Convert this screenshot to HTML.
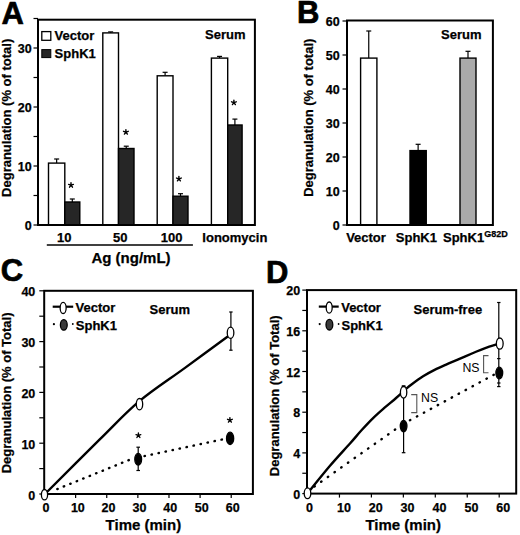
<!DOCTYPE html>
<html><head><meta charset="utf-8"><style>
html,body{margin:0;padding:0;background:#fff;}
body{width:520px;height:535px;overflow:hidden;}
svg{display:block;font-family:"Liberation Sans", sans-serif;}
</style></head><body>
<svg width="520" height="535" viewBox="0 0 520 535">
<text x="12.70" y="23.70" font-size="31" text-anchor="middle" font-weight="bold"  stroke="#000" stroke-width="0.7" stroke-linejoin="round">A</text>
<line x1="56.65" y1="159.00" x2="56.65" y2="163.10" stroke="#000" stroke-width="1.2" />
<line x1="54.15" y1="159.00" x2="59.15" y2="159.00" stroke="#000" stroke-width="1.2" />
<rect x="48.50" y="163.10" width="16.30" height="61.90" fill="#fff" stroke="#000" stroke-width="1.4"/>
<line x1="72.30" y1="199.00" x2="72.30" y2="202.00" stroke="#000" stroke-width="1.2" />
<line x1="69.80" y1="199.00" x2="74.80" y2="199.00" stroke="#000" stroke-width="1.2" />
<rect x="64.80" y="202.00" width="15.00" height="23.00" fill="#262626" stroke="#000" stroke-width="1.4"/>
<line x1="110.65" y1="31.90" x2="110.65" y2="32.90" stroke="#000" stroke-width="1.2" />
<line x1="108.15" y1="31.90" x2="113.15" y2="31.90" stroke="#000" stroke-width="1.2" />
<rect x="102.80" y="32.90" width="15.70" height="192.10" fill="#fff" stroke="#000" stroke-width="1.4"/>
<line x1="126.25" y1="146.20" x2="126.25" y2="148.50" stroke="#000" stroke-width="1.2" />
<line x1="123.75" y1="146.20" x2="128.75" y2="146.20" stroke="#000" stroke-width="1.2" />
<rect x="118.50" y="148.50" width="15.50" height="76.50" fill="#262626" stroke="#000" stroke-width="1.4"/>
<line x1="165.10" y1="72.30" x2="165.10" y2="75.80" stroke="#000" stroke-width="1.2" />
<line x1="162.60" y1="72.30" x2="167.60" y2="72.30" stroke="#000" stroke-width="1.2" />
<rect x="157.20" y="75.80" width="15.80" height="149.20" fill="#fff" stroke="#000" stroke-width="1.4"/>
<line x1="180.50" y1="193.70" x2="180.50" y2="196.20" stroke="#000" stroke-width="1.2" />
<line x1="178.00" y1="193.70" x2="183.00" y2="193.70" stroke="#000" stroke-width="1.2" />
<rect x="173.00" y="196.20" width="15.00" height="28.80" fill="#262626" stroke="#000" stroke-width="1.4"/>
<line x1="219.55" y1="56.40" x2="219.55" y2="58.10" stroke="#000" stroke-width="1.2" />
<line x1="217.05" y1="56.40" x2="222.05" y2="56.40" stroke="#000" stroke-width="1.2" />
<rect x="211.40" y="58.10" width="16.30" height="166.90" fill="#fff" stroke="#000" stroke-width="1.4"/>
<line x1="234.90" y1="119.10" x2="234.90" y2="125.00" stroke="#000" stroke-width="1.2" />
<line x1="232.40" y1="119.10" x2="237.40" y2="119.10" stroke="#000" stroke-width="1.2" />
<rect x="227.70" y="125.00" width="14.40" height="100.00" fill="#262626" stroke="#000" stroke-width="1.4"/>
<rect x="38.00" y="19.70" width="216.90" height="205.30" fill="none" stroke="#000" stroke-width="2.0"/>
<line x1="33.50" y1="225.00" x2="38.00" y2="225.00" stroke="#000" stroke-width="1.2" />
<text x="31.60" y="230.20" font-size="12.5" text-anchor="end" font-weight="bold"  stroke="#000" stroke-width="0.25">0</text>
<line x1="33.50" y1="195.50" x2="38.00" y2="195.50" stroke="#000" stroke-width="1.2" />
<line x1="33.50" y1="166.00" x2="38.00" y2="166.00" stroke="#000" stroke-width="1.2" />
<text x="31.60" y="171.20" font-size="12.5" text-anchor="end" font-weight="bold"  stroke="#000" stroke-width="0.25">10</text>
<line x1="33.50" y1="136.50" x2="38.00" y2="136.50" stroke="#000" stroke-width="1.2" />
<line x1="33.50" y1="107.00" x2="38.00" y2="107.00" stroke="#000" stroke-width="1.2" />
<text x="31.60" y="112.20" font-size="12.5" text-anchor="end" font-weight="bold"  stroke="#000" stroke-width="0.25">20</text>
<line x1="33.50" y1="77.50" x2="38.00" y2="77.50" stroke="#000" stroke-width="1.2" />
<line x1="33.50" y1="48.00" x2="38.00" y2="48.00" stroke="#000" stroke-width="1.2" />
<text x="31.60" y="53.20" font-size="12.5" text-anchor="end" font-weight="bold"  stroke="#000" stroke-width="0.25">30</text>
<line x1="33.50" y1="18.50" x2="38.00" y2="18.50" stroke="#000" stroke-width="1.2" />
<rect x="41.80" y="31.60" width="9.00" height="8.70" fill="#fff" stroke="#000" stroke-width="1.3"/>
<text x="54.60" y="40.40" font-size="13" text-anchor="start" font-weight="bold"  stroke="#000" stroke-width="0.25">Vector</text>
<rect x="41.80" y="49.60" width="9.00" height="8.00" fill="#262626" stroke="#000" stroke-width="1.0"/>
<text x="54.60" y="57.50" font-size="13" text-anchor="start" font-weight="bold"  stroke="#000" stroke-width="0.25">SphK1</text>
<text x="205.00" y="39.00" font-size="13" text-anchor="start" font-weight="bold"  stroke="#000" stroke-width="0.25">Serum</text>
<path d="M71.00,185.14L71.00,182.64M71.00,185.14L73.38,184.37M71.00,185.14L72.47,187.16M71.00,185.14L69.53,187.16M71.00,185.14L68.62,184.37" stroke="#000" stroke-width="1.4" stroke-linecap="round" fill="none"/>
<path d="M125.90,132.09L125.90,129.59M125.90,132.09L128.28,131.32M125.90,132.09L127.37,134.11M125.90,132.09L124.43,134.11M125.90,132.09L123.52,131.32" stroke="#000" stroke-width="1.4" stroke-linecap="round" fill="none"/>
<path d="M178.90,178.84L178.90,176.34M178.90,178.84L181.28,178.07M178.90,178.84L180.37,180.86M178.90,178.84L177.43,180.86M178.90,178.84L176.52,178.07" stroke="#000" stroke-width="1.4" stroke-linecap="round" fill="none"/>
<path d="M233.90,102.59L233.90,100.09M233.90,102.59L236.28,101.82M233.90,102.59L235.37,104.61M233.90,102.59L232.43,104.61M233.90,102.59L231.52,101.82" stroke="#000" stroke-width="1.4" stroke-linecap="round" fill="none"/>
<text x="64.30" y="241.50" font-size="13" text-anchor="middle" font-weight="bold"  stroke="#000" stroke-width="0.25">10</text>
<text x="120.30" y="241.50" font-size="13" text-anchor="middle" font-weight="bold"  stroke="#000" stroke-width="0.25">50</text>
<text x="171.55" y="241.50" font-size="13" text-anchor="middle" font-weight="bold"  stroke="#000" stroke-width="0.25">100</text>
<text x="234.85" y="241.50" font-size="13" text-anchor="middle" font-weight="bold"  stroke="#000" stroke-width="0.25">Ionomycin</text>
<line x1="46.80" y1="245.00" x2="192.90" y2="245.00" stroke="#000" stroke-width="1.3" />
<text x="131.00" y="262.50" font-size="15" text-anchor="middle" font-weight="bold"  stroke="#000" stroke-width="0.25">Ag (ng/mL)</text>
<text x="0" y="0" font-size="13" text-anchor="middle" font-weight="bold" stroke="#000" stroke-width="0.25" transform="translate(11.45,117.85) rotate(-90)">Degranulation (% of total)</text>
<text x="308.20" y="23.30" font-size="31" text-anchor="middle" font-weight="bold"  stroke="#000" stroke-width="0.7" stroke-linejoin="round">B</text>
<line x1="368.75" y1="31.00" x2="368.75" y2="58.10" stroke="#000" stroke-width="1.2" />
<line x1="366.25" y1="31.00" x2="371.25" y2="31.00" stroke="#000" stroke-width="1.2" />
<rect x="360.60" y="58.10" width="16.30" height="166.90" fill="#fff" stroke="#000" stroke-width="1.4"/>
<line x1="418.12" y1="144.30" x2="418.12" y2="150.60" stroke="#000" stroke-width="1.2" />
<line x1="415.62" y1="144.30" x2="420.62" y2="144.30" stroke="#000" stroke-width="1.2" />
<rect x="410.00" y="150.60" width="16.25" height="74.40" fill="#000" stroke="#000" stroke-width="1.4"/>
<line x1="468.00" y1="51.30" x2="468.00" y2="58.10" stroke="#000" stroke-width="1.2" />
<line x1="465.50" y1="51.30" x2="470.50" y2="51.30" stroke="#000" stroke-width="1.2" />
<rect x="460.00" y="58.10" width="16.00" height="166.90" fill="#aaa" stroke="#000" stroke-width="1.4"/>
<rect x="347.00" y="20.50" width="145.90" height="204.50" fill="none" stroke="#000" stroke-width="2.0"/>
<line x1="342.50" y1="225.00" x2="347.00" y2="225.00" stroke="#000" stroke-width="1.2" />
<text x="339.70" y="229.80" font-size="12.5" text-anchor="end" font-weight="bold"  stroke="#000" stroke-width="0.25">0</text>
<line x1="342.50" y1="191.00" x2="347.00" y2="191.00" stroke="#000" stroke-width="1.2" />
<text x="339.70" y="195.80" font-size="12.5" text-anchor="end" font-weight="bold"  stroke="#000" stroke-width="0.25">10</text>
<line x1="342.50" y1="157.00" x2="347.00" y2="157.00" stroke="#000" stroke-width="1.2" />
<text x="339.70" y="161.80" font-size="12.5" text-anchor="end" font-weight="bold"  stroke="#000" stroke-width="0.25">20</text>
<line x1="342.50" y1="123.00" x2="347.00" y2="123.00" stroke="#000" stroke-width="1.2" />
<text x="339.70" y="127.80" font-size="12.5" text-anchor="end" font-weight="bold"  stroke="#000" stroke-width="0.25">30</text>
<line x1="342.50" y1="89.00" x2="347.00" y2="89.00" stroke="#000" stroke-width="1.2" />
<text x="339.70" y="93.80" font-size="12.5" text-anchor="end" font-weight="bold"  stroke="#000" stroke-width="0.25">40</text>
<line x1="342.50" y1="55.00" x2="347.00" y2="55.00" stroke="#000" stroke-width="1.2" />
<text x="339.70" y="59.80" font-size="12.5" text-anchor="end" font-weight="bold"  stroke="#000" stroke-width="0.25">50</text>
<line x1="342.50" y1="21.00" x2="347.00" y2="21.00" stroke="#000" stroke-width="1.2" />
<text x="339.70" y="25.80" font-size="12.5" text-anchor="end" font-weight="bold"  stroke="#000" stroke-width="0.25">60</text>
<text x="441.00" y="39.00" font-size="13" text-anchor="start" font-weight="bold"  stroke="#000" stroke-width="0.25">Serum</text>
<text x="366.00" y="242.00" font-size="13" text-anchor="middle" font-weight="bold"  stroke="#000" stroke-width="0.25">Vector</text>
<text x="416.40" y="241.90" font-size="13" text-anchor="middle" font-weight="bold"  stroke="#000" stroke-width="0.25">SphK1</text>
<text x="443" y="241.9" font-size="13" font-weight="bold" stroke="#000" stroke-width="0.25">SphK1<tspan font-size="9" dy="-4.6">G82D</tspan></text>
<text x="0" y="0" font-size="13" text-anchor="middle" font-weight="bold" stroke="#000" stroke-width="0.25" transform="translate(313.10,117.75) rotate(-90)">Degranulation (% of total)</text>
<text x="11.90" y="280.60" font-size="31" text-anchor="middle" font-weight="bold"  stroke="#000" stroke-width="0.7" stroke-linejoin="round">C</text>
<path d="M44.50,494.50 C53.75,485.28 84.18,454.75 100.00,439.20 C115.82,423.65 125.23,413.08 139.40,401.20 C153.57,389.32 169.82,379.02 185.00,367.90 C200.18,356.78 222.92,340.07 230.50,334.50" fill="none" stroke="#000" stroke-width="2.4" stroke-linejoin="round"/>
<path d="M57.27,489.09L57.73,488.91M63.73,486.48L64.20,486.29M70.20,483.86L70.66,483.67M76.66,481.24L77.12,481.05M83.12,478.62L83.59,478.43M89.59,476.00L90.05,475.82M96.05,473.38L96.51,473.20M102.51,470.77L102.98,470.58M108.98,468.15L109.44,467.96M115.44,465.53L115.90,465.34M121.90,462.91L122.37,462.72M128.37,460.29L128.83,460.11" stroke="#000" stroke-width="2.4" stroke-linecap="round" fill="none"/>
<path d="M144.46,456.05L144.94,455.95M151.46,454.56L151.94,454.46M158.46,453.07L158.94,452.97M165.46,451.58L165.94,451.48M172.46,450.09L172.94,449.98M179.46,448.60L179.94,448.49M186.46,447.11L186.94,447.00M193.46,445.62L193.94,445.51M200.46,444.12L200.94,444.02M207.46,442.63L207.94,442.53M214.46,441.14L214.94,441.04M221.46,439.65L221.94,439.55" stroke="#000" stroke-width="2.4" stroke-linecap="round" fill="none"/>
<rect x="44.20" y="290.80" width="208.70" height="203.20" fill="none" stroke="#000" stroke-width="2.0"/>
<line x1="39.30" y1="494.00" x2="44.20" y2="494.00" stroke="#000" stroke-width="1.2" />
<text x="35.30" y="499.60" font-size="12.5" text-anchor="end" font-weight="bold"  stroke="#000" stroke-width="0.25">0</text>
<line x1="39.30" y1="468.60" x2="44.20" y2="468.60" stroke="#000" stroke-width="1.2" />
<line x1="39.30" y1="443.20" x2="44.20" y2="443.20" stroke="#000" stroke-width="1.2" />
<text x="35.30" y="448.80" font-size="12.5" text-anchor="end" font-weight="bold"  stroke="#000" stroke-width="0.25">10</text>
<line x1="39.30" y1="417.80" x2="44.20" y2="417.80" stroke="#000" stroke-width="1.2" />
<line x1="39.30" y1="392.40" x2="44.20" y2="392.40" stroke="#000" stroke-width="1.2" />
<text x="35.30" y="398.00" font-size="12.5" text-anchor="end" font-weight="bold"  stroke="#000" stroke-width="0.25">20</text>
<line x1="39.30" y1="367.00" x2="44.20" y2="367.00" stroke="#000" stroke-width="1.2" />
<line x1="39.30" y1="341.60" x2="44.20" y2="341.60" stroke="#000" stroke-width="1.2" />
<text x="35.30" y="347.20" font-size="12.5" text-anchor="end" font-weight="bold"  stroke="#000" stroke-width="0.25">30</text>
<line x1="39.30" y1="316.20" x2="44.20" y2="316.20" stroke="#000" stroke-width="1.2" />
<line x1="39.30" y1="290.80" x2="44.20" y2="290.80" stroke="#000" stroke-width="1.2" />
<text x="35.30" y="296.40" font-size="12.5" text-anchor="end" font-weight="bold"  stroke="#000" stroke-width="0.25">40</text>
<text x="46.00" y="512.20" font-size="12.5" text-anchor="middle" font-weight="bold"  stroke="#000" stroke-width="0.25">0</text>
<line x1="75.62" y1="494.00" x2="75.62" y2="498.00" stroke="#000" stroke-width="1.2" />
<text x="77.85" y="512.20" font-size="12.5" text-anchor="middle" font-weight="bold"  stroke="#000" stroke-width="0.25">10</text>
<line x1="106.74" y1="494.00" x2="106.74" y2="498.00" stroke="#000" stroke-width="1.2" />
<text x="108.55" y="512.20" font-size="12.5" text-anchor="middle" font-weight="bold"  stroke="#000" stroke-width="0.25">20</text>
<line x1="137.86" y1="494.00" x2="137.86" y2="498.00" stroke="#000" stroke-width="1.2" />
<text x="139.50" y="512.20" font-size="12.5" text-anchor="middle" font-weight="bold"  stroke="#000" stroke-width="0.25">30</text>
<line x1="168.98" y1="494.00" x2="168.98" y2="498.00" stroke="#000" stroke-width="1.2" />
<text x="170.20" y="512.20" font-size="12.5" text-anchor="middle" font-weight="bold"  stroke="#000" stroke-width="0.25">40</text>
<line x1="200.10" y1="494.00" x2="200.10" y2="498.00" stroke="#000" stroke-width="1.2" />
<text x="201.80" y="512.20" font-size="12.5" text-anchor="middle" font-weight="bold"  stroke="#000" stroke-width="0.25">50</text>
<line x1="231.22" y1="494.00" x2="231.22" y2="498.00" stroke="#000" stroke-width="1.2" />
<text x="232.70" y="512.20" font-size="12.5" text-anchor="middle" font-weight="bold"  stroke="#000" stroke-width="0.25">60</text>
<line x1="230.90" y1="312.00" x2="230.90" y2="350.20" stroke="#000" stroke-width="1.2" />
<line x1="229.20" y1="312.00" x2="232.60" y2="312.00" stroke="#000" stroke-width="1.2" />
<line x1="229.20" y1="350.20" x2="232.60" y2="350.20" stroke="#000" stroke-width="1.2" />
<line x1="138.20" y1="447.20" x2="138.20" y2="470.50" stroke="#000" stroke-width="1.2" />
<line x1="136.40" y1="447.20" x2="140.00" y2="447.20" stroke="#000" stroke-width="1.2" />
<line x1="136.40" y1="470.50" x2="140.00" y2="470.50" stroke="#000" stroke-width="1.2" />
<ellipse cx="139.50" cy="404.20" rx="3.20" ry="5.70" fill="#fff" stroke="#000" stroke-width="1.3"/>
<ellipse cx="230.55" cy="332.75" rx="3.30" ry="5.60" fill="#fff" stroke="#000" stroke-width="1.3"/>
<ellipse cx="138.20" cy="459.20" rx="3.40" ry="5.80" fill="#000" stroke="#000" stroke-width="1.3"/>
<ellipse cx="230.10" cy="438.40" rx="3.60" ry="6.20" fill="#000" stroke="#000" stroke-width="1.3"/>
<ellipse cx="44.50" cy="494.70" rx="3.10" ry="5.20" fill="#fff" stroke="#000" stroke-width="1.3"/>
<path d="M138.40,435.39L138.40,432.89M138.40,435.39L140.78,434.62M138.40,435.39L139.87,437.41M138.40,435.39L136.93,437.41M138.40,435.39L136.02,434.62" stroke="#000" stroke-width="1.4" stroke-linecap="round" fill="none"/>
<path d="M229.90,420.09L229.90,417.59M229.90,420.09L232.28,419.32M229.90,420.09L231.37,422.11M229.90,420.09L228.43,422.11M229.90,420.09L227.52,419.32" stroke="#000" stroke-width="1.4" stroke-linecap="round" fill="none"/>
<line x1="52.70" y1="306.70" x2="73.20" y2="306.70" stroke="#000" stroke-width="2.2" />
<ellipse cx="63.15" cy="307.90" rx="3.00" ry="5.60" fill="#fff" stroke="#000" stroke-width="1.3"/>
<circle cx="53.9" cy="324.2" r="1.1" fill="#000"/><circle cx="72.8" cy="324.0" r="0.9" fill="#000"/>
<ellipse cx="63.80" cy="324.90" rx="3.40" ry="5.30" fill="#3a3a3a" stroke="#000" stroke-width="1.3"/>
<text x="75.50" y="312.20" font-size="13" text-anchor="start" font-weight="bold"  stroke="#000" stroke-width="0.25">Vector</text>
<text x="75.80" y="330.00" font-size="13" text-anchor="start" font-weight="bold"  stroke="#000" stroke-width="0.25">SphK1</text>
<text x="149.50" y="313.90" font-size="13" text-anchor="start" font-weight="bold"  stroke="#000" stroke-width="0.25">Serum</text>
<text x="143.40" y="529.60" font-size="15" text-anchor="middle" font-weight="bold"  stroke="#000" stroke-width="0.25">Time (min)</text>
<text x="0" y="0" font-size="13" text-anchor="middle" font-weight="bold" stroke="#000" stroke-width="0.25" transform="translate(11.20,392.90) rotate(-90)">Degranulation (% of Total)</text>
<text x="277.30" y="283.00" font-size="31" text-anchor="middle" font-weight="bold"  stroke="#000" stroke-width="0.7" stroke-linejoin="round">D</text>
<path d="M307.50,493.30 C311.25,488.72 322.92,474.10 330.00,465.80 C337.08,457.50 344.75,449.42 350.00,443.50 C355.25,437.58 357.65,434.53 361.50,430.30 C365.35,426.07 369.25,421.87 373.10,418.10 C376.95,414.33 380.77,411.05 384.60,407.70 C388.43,404.35 392.57,401.08 396.10,398.00 C399.63,394.92 403.23,391.45 405.80,389.20 C408.37,386.95 408.62,386.65 411.50,384.50 C414.38,382.35 419.25,378.73 423.10,376.30 C426.95,373.87 430.77,371.85 434.60,369.90 C438.43,367.95 442.25,366.30 446.10,364.60 C449.95,362.90 453.20,361.63 457.70,359.70 C462.20,357.77 468.62,354.90 473.10,353.00 C477.58,351.10 480.20,349.87 484.60,348.30 C489.00,346.73 497.02,344.38 499.50,343.60" fill="none" stroke="#000" stroke-width="2.4" stroke-linejoin="round"/>
<path d="M314.40,486.44L314.80,486.16M321.10,481.72L321.50,481.43M327.80,476.99L328.20,476.71M334.50,472.27L334.90,471.98M341.20,467.54L341.60,467.26M347.90,462.82L348.30,462.53M354.60,458.09L355.00,457.81M361.30,453.37L361.70,453.08M368.00,448.64L368.40,448.36M374.70,443.92L375.10,443.63M381.40,439.19L381.80,438.91M388.10,434.47L388.50,434.18M394.80,429.74L395.20,429.46" stroke="#000" stroke-width="2.4" stroke-linecap="round" fill="none"/>
<path d="M409.88,420.22L410.32,419.98M416.84,416.45L417.28,416.21M423.80,412.69L424.24,412.45M430.76,408.92L431.19,408.68M437.71,405.15L438.15,404.91M444.67,401.39L445.11,401.15M451.63,397.62L452.07,397.38M458.59,393.85L459.03,393.61M465.55,390.09L465.99,389.85M472.51,386.32L472.94,386.08M479.46,382.55L479.90,382.31M486.42,378.79L486.86,378.55M493.38,375.02L493.82,374.78" stroke="#000" stroke-width="2.4" stroke-linecap="round" fill="none"/>
<rect x="307.00" y="290.10" width="209.20" height="203.50" fill="none" stroke="#000" stroke-width="2.0"/>
<line x1="302.30" y1="493.60" x2="307.00" y2="493.60" stroke="#000" stroke-width="1.2" />
<text x="300.20" y="498.60" font-size="12.5" text-anchor="end" font-weight="bold"  stroke="#000" stroke-width="0.25">0</text>
<line x1="302.30" y1="473.25" x2="307.00" y2="473.25" stroke="#000" stroke-width="1.2" />
<line x1="302.30" y1="452.90" x2="307.00" y2="452.90" stroke="#000" stroke-width="1.2" />
<text x="300.20" y="457.90" font-size="12.5" text-anchor="end" font-weight="bold"  stroke="#000" stroke-width="0.25">4</text>
<line x1="302.30" y1="432.55" x2="307.00" y2="432.55" stroke="#000" stroke-width="1.2" />
<line x1="302.30" y1="412.20" x2="307.00" y2="412.20" stroke="#000" stroke-width="1.2" />
<text x="300.20" y="417.20" font-size="12.5" text-anchor="end" font-weight="bold"  stroke="#000" stroke-width="0.25">8</text>
<line x1="302.30" y1="391.85" x2="307.00" y2="391.85" stroke="#000" stroke-width="1.2" />
<line x1="302.30" y1="371.50" x2="307.00" y2="371.50" stroke="#000" stroke-width="1.2" />
<text x="300.20" y="376.50" font-size="12.5" text-anchor="end" font-weight="bold"  stroke="#000" stroke-width="0.25">12</text>
<line x1="302.30" y1="351.15" x2="307.00" y2="351.15" stroke="#000" stroke-width="1.2" />
<line x1="302.30" y1="330.80" x2="307.00" y2="330.80" stroke="#000" stroke-width="1.2" />
<text x="300.20" y="335.80" font-size="12.5" text-anchor="end" font-weight="bold"  stroke="#000" stroke-width="0.25">16</text>
<line x1="302.30" y1="310.45" x2="307.00" y2="310.45" stroke="#000" stroke-width="1.2" />
<line x1="302.30" y1="290.10" x2="307.00" y2="290.10" stroke="#000" stroke-width="1.2" />
<text x="300.20" y="295.10" font-size="12.5" text-anchor="end" font-weight="bold"  stroke="#000" stroke-width="0.25">20</text>
<text x="309.40" y="512.00" font-size="12.5" text-anchor="middle" font-weight="bold"  stroke="#000" stroke-width="0.25">0</text>
<line x1="339.45" y1="493.60" x2="339.45" y2="497.60" stroke="#000" stroke-width="1.2" />
<text x="344.00" y="512.00" font-size="12.5" text-anchor="middle" font-weight="bold"  stroke="#000" stroke-width="0.25">10</text>
<line x1="371.40" y1="493.60" x2="371.40" y2="497.60" stroke="#000" stroke-width="1.2" />
<text x="375.75" y="512.00" font-size="12.5" text-anchor="middle" font-weight="bold"  stroke="#000" stroke-width="0.25">20</text>
<line x1="403.35" y1="493.60" x2="403.35" y2="497.60" stroke="#000" stroke-width="1.2" />
<text x="407.50" y="512.00" font-size="12.5" text-anchor="middle" font-weight="bold"  stroke="#000" stroke-width="0.25">30</text>
<line x1="435.30" y1="493.60" x2="435.30" y2="497.60" stroke="#000" stroke-width="1.2" />
<text x="439.50" y="512.00" font-size="12.5" text-anchor="middle" font-weight="bold"  stroke="#000" stroke-width="0.25">40</text>
<line x1="467.25" y1="493.60" x2="467.25" y2="497.60" stroke="#000" stroke-width="1.2" />
<text x="471.50" y="512.00" font-size="12.5" text-anchor="middle" font-weight="bold"  stroke="#000" stroke-width="0.25">50</text>
<line x1="499.20" y1="493.60" x2="499.20" y2="497.60" stroke="#000" stroke-width="1.2" />
<text x="503.20" y="512.00" font-size="12.5" text-anchor="middle" font-weight="bold"  stroke="#000" stroke-width="0.25">60</text>
<line x1="403.60" y1="386.40" x2="403.60" y2="452.70" stroke="#000" stroke-width="1.2" />
<line x1="401.80" y1="386.40" x2="405.40" y2="386.40" stroke="#000" stroke-width="1.2" />
<line x1="401.80" y1="452.70" x2="405.40" y2="452.70" stroke="#000" stroke-width="1.2" />
<line x1="498.80" y1="302.50" x2="498.80" y2="386.60" stroke="#000" stroke-width="1.2" />
<line x1="497.10" y1="302.50" x2="500.50" y2="302.50" stroke="#000" stroke-width="1.2" />
<line x1="497.10" y1="358.60" x2="500.50" y2="358.60" stroke="#000" stroke-width="1.2" />
<line x1="497.10" y1="383.00" x2="500.50" y2="383.00" stroke="#000" stroke-width="1.2" />
<line x1="497.10" y1="386.60" x2="500.50" y2="386.60" stroke="#000" stroke-width="1.2" />
<ellipse cx="403.60" cy="392.30" rx="3.20" ry="5.80" fill="#fff" stroke="#000" stroke-width="1.3"/>
<ellipse cx="499.75" cy="343.60" rx="3.40" ry="5.60" fill="#fff" stroke="#000" stroke-width="1.3"/>
<ellipse cx="403.60" cy="426.10" rx="3.35" ry="5.80" fill="#000" stroke="#000" stroke-width="1.3"/>
<ellipse cx="499.30" cy="373.00" rx="3.40" ry="5.80" fill="#000" stroke="#000" stroke-width="1.3"/>
<ellipse cx="307.50" cy="493.30" rx="3.30" ry="5.40" fill="#fff" stroke="#000" stroke-width="1.3"/>
<line x1="401.80" y1="385.90" x2="405.40" y2="385.90" stroke="#000" stroke-width="1.3" />
<text x="421.00" y="402.30" font-size="12.3" text-anchor="start" font-weight="normal" >NS</text>
<polyline points="411.2,394.6 416.8,394.6 416.8,412.6 411.2,412.6" fill="none" stroke="#555" stroke-width="1.1"/>
<text x="462.40" y="371.60" font-size="12.3" text-anchor="start" font-weight="normal" >NS</text>
<polyline points="488.5,355.6 483.6,355.6 483.6,372.8 488.5,372.8" fill="none" stroke="#555" stroke-width="1.1"/>
<line x1="318.80" y1="306.60" x2="338.70" y2="306.60" stroke="#000" stroke-width="2.2" />
<ellipse cx="329.20" cy="307.60" rx="3.00" ry="5.60" fill="#fff" stroke="#000" stroke-width="1.3"/>
<circle cx="319.7" cy="324.1" r="1.1" fill="#000"/><circle cx="338.6" cy="324.0" r="0.9" fill="#000"/>
<ellipse cx="329.40" cy="324.70" rx="3.40" ry="5.30" fill="#3a3a3a" stroke="#000" stroke-width="1.3"/>
<text x="341.20" y="312.20" font-size="13" text-anchor="start" font-weight="bold"  stroke="#000" stroke-width="0.25">Vector</text>
<text x="341.50" y="330.00" font-size="13" text-anchor="start" font-weight="bold"  stroke="#000" stroke-width="0.25">SphK1</text>
<text x="413.50" y="313.90" font-size="13" text-anchor="start" font-weight="bold"  stroke="#000" stroke-width="0.25">Serum-free</text>
<text x="403.25" y="529.60" font-size="15" text-anchor="middle" font-weight="bold"  stroke="#000" stroke-width="0.25">Time (min)</text>
<text x="0" y="0" font-size="13" text-anchor="middle" font-weight="bold" stroke="#000" stroke-width="0.25" transform="translate(279.20,395.80) rotate(-90)">Degranulation (% of Total)</text>
</svg>
</body></html>
